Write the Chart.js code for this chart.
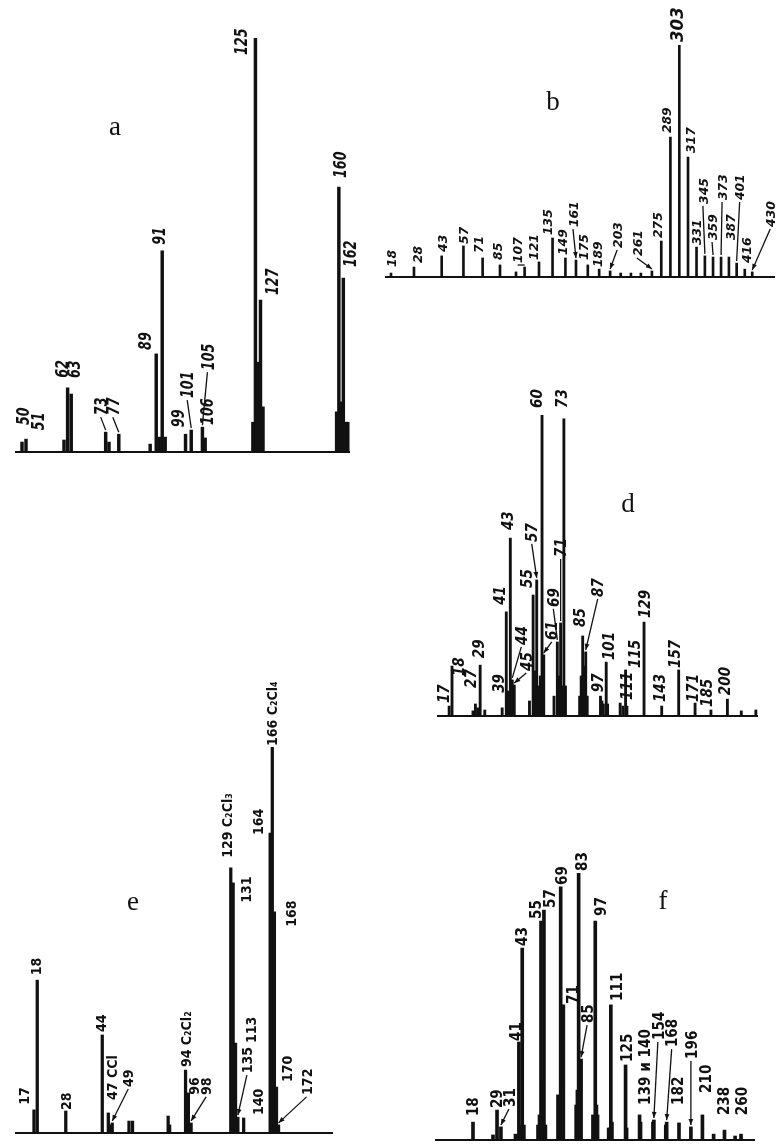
<!DOCTYPE html>
<html><head><meta charset="utf-8">
<script src="https://cdn.jsdelivr.net/npm/chart.js@4.4.1/dist/chart.umd.min.js"></script>
<style>
html,body{margin:0;padding:0;background:#fff;}
#page{position:relative;width:780px;height:1144px;overflow:hidden;background:#fff;}
canvas{position:absolute;}
.letter{position:absolute;font-family:"Liberation Serif","DejaVu Serif",serif;font-size:27px;color:#111;line-height:1;transform:translate(-50%,-50%);}
</style></head><body>
<div id="page">
<canvas id="ca"></canvas><canvas id="cb"></canvas><canvas id="cd"></canvas><canvas id="ce"></canvas><canvas id="cf"></canvas>
<div class="letter" style="left:115px;top:126px">a</div>
<div class="letter" style="left:553px;top:101px">b</div>
<div class="letter" style="left:628px;top:503px">d</div>
<div class="letter" style="left:133px;top:901px">e</div>
<div class="letter" style="left:663px;top:900px">f</div>
</div>
<script>
// ---------- DATA (m/z, relative intensity % of base peak, labels) ----------
const aMz = [50,51,61,62,63,73,74,77,87,89,90,91,92,99,101,105,106,124,125,126,127,128,159,160,161,162,163,164];
const aInt = [2.4,3.1,2.9,15.5,14.0,4.8,2.4,4.3,1.9,23.7,3.6,48.6,3.6,4.3,5.3,6.0,3.4,7.2,100,21.7,36.7,10.9,9.7,64.0,12.1,42.0,7.2,7.2];
const aLabelText = ['50','51','62','63','73','77','89','91','99','101','105','106','125','127','160','162'];
const aLabelMz = [50,51,62,63,73,77,89,91,99,101,105,106,125,127,160,162];

const bMz = [18,28,43,57,71,85,99,107,121,135,149,161,175,189,203,217,231,245,261,275,289,303,317,331,345,359,373,387,401,416,430];
const bInt = [1.7,4.3,9.1,13.4,8.2,5.2,2.2,4.3,6.5,16.8,8.2,7.3,5.2,3.4,2.6,1.7,1.7,1.7,2.6,15.5,60.3,100,51.7,12.9,9.1,8.6,8.6,8.6,6.0,3.4,2.2];
const bLabelText = ['18','28','43','57','71','85','107','121','135','149','161','175','189','203','261','275','289','303','317','331','345','359','373','387','401','416','430'];
const bLabelMz = [18,28,43,57,71,85,107,121,135,149,161,175,189,203,261,275,289,303,317,331,345,359,373,387,401,416,430];

const dMz = [17,18,26,27,28,29,31,39,41,42,43,44,45,53,55,56,57,58,59,60,61,67,69,70,71,72,73,74,83,84,85,86,87,88,97,98,99,101,102,111,113,115,116,129,143,157,171,185,200,213,227];
const dInt = [3.3,16.6,1.7,4.0,2.7,16.9,2.0,2.7,34.6,8.3,59.1,12.0,10.3,5.0,40.2,15.0,45.2,10.0,13.3,100,20.3,6.6,24.6,13.3,30.9,10.0,98.7,10.0,6.6,13.3,26.6,16.6,21.3,6.6,6.6,5.0,4.0,17.9,4.0,4.3,3.3,15.3,3.3,31.2,3.3,15.3,4.3,2.0,5.6,1.7,2.0];
const dLabelText = ['17','18','27','29','39','41','43','44','45','55','57','60','61','69','71','73','85','87','97','101','111','115','129','143','157','171','185','200'];
const dLabelMz = [17,18,27,29,39,41,43,44,45,55,57,60,61,69,71,73,85,87,97,101,111,115,129,143,157,171,185,200];

const eMz = [17,18,28,44,47,48,49,58,60,82,83,94,96,98,129,131,133,135,140,164,166,168,170,172];
const eInt = [6.0,39.6,5.7,25.4,5.2,2.1,2.6,3.1,3.1,4.4,2.1,16.3,10.4,2.6,68.7,64.8,23.3,4.1,3.9,77.7,100,57.3,11.9,2.1];
const eLabelText = ['17','18','28','44','47 CCl','49','94 C₂Cl₂','96','98','129 C₂Cl₃','131','113','135','140','164','166 C₂Cl₄','168','170','172'];
const eLabelMz = [17,18,28,44,47,49,94,96,98,129,131,133,135,140,164,166,168,170,172];

const fMz = [18,27,29,31,39,41,42,43,44,53,54,55,56,57,58,67,68,69,70,71,81,82,83,84,85,95,96,97,98,99,109,110,111,112,125,126,139,140,153,154,167,168,182,196,210,224,238,252,260];
const fInt = [6.7,1.9,11.2,4.9,2.2,36.7,5.6,71.9,5.6,5.6,9.4,82.0,22.5,86.1,5.6,16.9,13.1,94.8,20.6,50.6,13.1,18.7,100,16.9,30.3,9.4,7.5,82.0,13.1,9.4,4.5,4.5,50.6,6.7,28.1,4.5,9.4,6.7,6.7,7.5,5.6,6.7,6.4,4.9,9.4,2.2,3.7,1.5,2.2];
const fLabelText = ['18','29','31','41','43','55','57','69','71','83','85','97','111','125','139 и 140','154','168','182','196','210','238','260'];
const fLabelMz = [18,29,31,41,43,55,57,69,71,83,85,97,111,125,139,154,168,182,196,210,238,260];

// ---------- LAYOUT / STYLE ----------
// canvas: [x, y, w, h]; area: [left, right, top, bottom] in page px
const styles = {
  a: {canvas:[0,0,390,470], area:[15,350,38,452], exp:0.5, min:48.27, max:165.0, bar:2.8,
      font:'italic bold 17px "DejaVu Sans", sans-serif', size:17, sx:0.75,
      offsets:[[1,17],[12,9],[-6,10],[3,16],[-5,17,'line'],[-6,19,'line'],[-11,4],[-3,6],[-8,7],[-4,32,'line'],[5,57,'line'],[2,13],[-15,-17],[11,5],[1,9],[7,11]]},
  b: {canvas:[380,0,400,300], area:[385,775,45,277], exp:0.5, min:15.75, max:474.2, bar:2,
      font:'italic bold 13px "DejaVu Sans", sans-serif', size:13, sx:0.95,
      offsets:[[0,6],[3,4],[1,4],[0,2],[-4,5],[-3,5],[-7,4,'line'],[-6,2],[-5,3],[-3,3],[-3,33,'arrow'],[-4,5],[-2,2],[7,23,'arrow'],[-15,15,'arrow'],[-4,3],[-4,4],[-3,3,null,1.35],[2,4],[0,2],[-2,52,'line'],[-1,17,'line'],[1,57,'line'],[1,17],[3,63,'line'],[2,6],[18,45,'arrow']]},
  d: {canvas:[400,300,380,440], area:[437,758,415,716], exp:0.6, min:13.02, max:229.1, bar:2.2,
      font:'italic bold 15px "DejaVu Sans", sans-serif', size:15, sx:0.9,
      offsets:[[-6,3],[7,-10],[-5,16],[-2,7],[-4,15],[-7,7],[-3,8],[9,35,'line'],[12,14,'arrow'],[-7,7],[-5,38,'arrow'],[-5,7],[8,15,'arrow'],[-4,35,'line'],[0,66,'line'],[-2,11],[-3,9],[12,55,'arrow'],[-3,4],[2,2],[6,3],[9,2],[1,4],[-2,4],[-4,2],[-2,1],[-4,3],[-3,4]]},
  e: {canvas:[0,640,390,504], area:[15,333,747,1133], exp:0.5, min:11.73, max:228.5, bar:2.6,
      font:'bold 14px "DejaVu Sans", sans-serif', size:14, sx:0.9,
      offsets:[[-10,5],[-1,5],[0,1],[-1,3],[4,13],[16,36,'arrow'],[0,3],[6,-2],[15,28,'arrow'],[-4,10],[13,-20],[15,0],[9,44,'arrow'],[14,3],[-12,-2],[0,1],[17,-15],[10,5],[28,30,'arrow']]},
  f: {canvas:[400,800,380,344], area:[435,755,873,1140], exp:0.55, min:5.60, max:279.3, bar:3,
      font:'bold 16px "DejaVu Sans", sans-serif', size:16, sx:0.85,
      offsets:[[-1,6],[-1,2],[8,20,'arrow'],[-4,1],[-1,2],[-6,2],[5,2],[1,2],[9,1],[3,2],[6,36,'arrow'],[5,5],[5,4],[1,3],[5,10],[4,80,'arrow'],[5,75,'arrow'],[-2,18],[0,68,'arrow'],[3,22],[-1,15],[0,19]]}
};

const panels = {
  a:{mz:aMz, int:aInt, lt:aLabelText, lm:aLabelMz},
  b:{mz:bMz, int:bInt, lt:bLabelText, lm:bLabelMz},
  d:{mz:dMz, int:dInt, lt:dLabelText, lm:dLabelMz},
  e:{mz:eMz, int:eInt, lt:eLabelText, lm:eLabelMz},
  f:{mz:fMz, int:fInt, lt:fLabelText, lm:fLabelMz}
};

// ---------- power-law m/z axis (magnetic scan) ----------
class PowerScale extends Chart.LinearScale {
  getPixelForValue(value) {
    const p = this.options.exponent || 0.5;
    const a = Math.pow(this.min, p), b = Math.pow(this.max, p);
    return this.getPixelForDecimal((Math.pow(value, p) - a) / (b - a));
  }
  getValueForPixel(pixel) {
    const p = this.options.exponent || 0.5;
    const a = Math.pow(this.min, p), b = Math.pow(this.max, p);
    const d = this.getDecimalForPixel(pixel);
    return Math.pow(a + d * (b - a), 1 / p);
  }
}
PowerScale.id = 'power';
PowerScale.defaults = Chart.LinearScale.defaults;
Chart.register(PowerScale);

function labelPlugin(key) {
  return {
    id: 'peakLabels_' + key,
    afterDatasetsDraw(chart) {
      const P = panels[key], S = styles[key];
      const ctx = chart.ctx, xs = chart.scales.x, ys = chart.scales.y;
      ctx.save();
      ctx.fillStyle = '#111'; ctx.strokeStyle = '#111';
      const yb = ys.getPixelForValue(0);
      ctx.lineWidth = 2; ctx.beginPath(); ctx.moveTo(xs.left, yb); ctx.lineTo(xs.right, yb); ctx.stroke();
      P.lt.forEach((t, i) => {
        const m = P.lm[i];
        const idx = P.mz.indexOf(m);
        const v = idx >= 0 ? P.int[idx] : 0;
        const px = xs.getPixelForValue(m), py = ys.getPixelForValue(v);
        const o = S.offsets[i] || [0, 4];
        const cx = px + o[0], by = py - o[1];
        const lead = o[2], fs = o[3] || 1;
        if (lead) {
          const x1 = cx, y1 = by + 2, x2 = px, y2 = py - 2;
          ctx.lineWidth = 1.3;
          ctx.beginPath(); ctx.moveTo(x1, y1); ctx.lineTo(x2, y2); ctx.stroke();
          if (lead === 'arrow') {
            const ang = Math.atan2(y2 - y1, x2 - x1), L = 6, W = 2.4;
            ctx.beginPath();
            ctx.moveTo(x2, y2);
            ctx.lineTo(x2 - L * Math.cos(ang) + W * Math.sin(ang), y2 - L * Math.sin(ang) - W * Math.cos(ang));
            ctx.lineTo(x2 - L * Math.cos(ang) - W * Math.sin(ang), y2 - L * Math.sin(ang) + W * Math.cos(ang));
            ctx.closePath(); ctx.fill();
          }
        }
        ctx.save();
        ctx.translate(cx, by);
        ctx.rotate(-Math.PI / 2);
        ctx.scale(S.sx * fs, fs);
        ctx.font = S.font;
        ctx.textAlign = 'left';
        ctx.textBaseline = 'alphabetic';
        ctx.fillText(t, 0, S.size * 0.36);
        ctx.restore();
      });
      ctx.restore();
    }
  };
}

function makeChart(key) {
  const S = styles[key], P = panels[key];
  const cv = document.getElementById('c' + key);
  const [x, y, w, h] = S.canvas;
  cv.style.left = x + 'px'; cv.style.top = y + 'px';
  cv.width = w; cv.height = h; cv.style.width = w + 'px'; cv.style.height = h + 'px';
  const [L, R, T, B] = S.area;
  new Chart(cv, {
    type: 'bar',
    data: { datasets: [{
      data: P.mz.map((m, i) => ({x: m, y: P.int[i]})),
      backgroundColor: '#111', borderWidth: 0,
      barThickness: S.bar, grouped: false
    }]},
    options: {
      responsive: false, animation: false, devicePixelRatio: 1,
      layout: { padding: { left: L - x, right: x + w - R, top: T - y, bottom: y + h - B } },
      plugins: { legend: {display: false}, tooltip: {enabled: false} },
      scales: {
        x: { type: 'power', exponent: S.exp, min: S.min, max: S.max, display: false, offset: false },
        y: { type: 'linear', min: 0, max: 100, display: false }
      }
    },
    plugins: [labelPlugin(key)]
  });
}
['a','b','d','e','f'].forEach(makeChart);
</script>
</body></html>
